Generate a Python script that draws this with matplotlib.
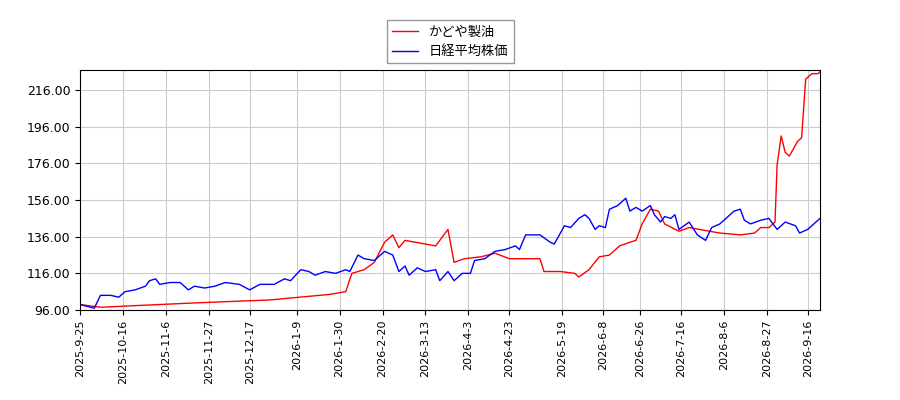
import matplotlib
matplotlib.use("Agg")
import matplotlib.pyplot as plt
import numpy as np
import datetime as dt

plt.rcParams['font.family'] = ['Noto Sans CJK JP', 'DejaVu Sans']

start = dt.date(2025, 9, 25)
red_days = [0,10,39,59,93,122,130,133,139,144,149,153,156,159,169,174,176,180,183,188,196,203,210,218,225,227,235,242,244,249,254,259,264,269,272,275,279,283,286,293,298,303,313,323,330,333,337,340,341,343,345,347,351,353,355,358,361,362]
red_vals = [99,97.5,99,100,101.5,104.5,106,116,118,122,133,137,130,134,132,131,134,140,122,124,125,127,124,124,124,117,117,116,114,118,125,126,131,133,134,143,151,150,143,139,141,140,138,137,138,141,141,144,175,191,182,180,188,190,222,225,225,226]
blue_days = [0,7,10,15,19,22,27,32,34,37,39,44,49,53,56,61,66,71,78,83,88,95,100,103,108,112,115,120,125,130,132,136,139,144,149,153,156,159,161,165,169,174,176,180,183,187,191,193,198,203,208,213,215,218,222,225,230,232,237,240,244,247,249,252,254,257,259,263,267,269,272,275,279,281,284,286,289,291,293,298,302,306,309,313,315,320,323,325,328,333,337,341,345,350,352,356,359,362]
blue_vals = [99,97,104,104,103,106,107,109,112,113,110,111,111,107,109,108,109,111,110,107,110,110,113,112,118,117,115,117,116,118,117,126,124,123,128,126,117,120,115,119,117,118,112,117,112,116,116,123,124,128,129,131,129,137,137,137,133,132,142,141,146,148,146,140,142,141,151,153,157,150,152,150,153,148,144,147,146,148,140,144,137,134,141,143,145,150,151,145,143,145,146,140,144,142,138,140,143,146]
tick_labels = ["2025-9-25","2025-10-16","2025-11-6","2025-11-27","2025-12-17","2026-1-9","2026-1-30","2026-2-20","2026-3-13","2026-4-3","2026-4-23","2026-5-19","2026-6-8","2026-6-26","2026-7-16","2026-8-6","2026-8-27","2026-9-16"]

def d(s):
    y, m, dd = map(int, s.split("-"))
    return dt.date(y, m, dd)

rx = [start + dt.timedelta(days=k) for k in red_days]
bx = [start + dt.timedelta(days=k) for k in blue_days]

fig = plt.figure(figsize=(9, 4), dpi=100)
ax = fig.add_axes([80/900, 90/400, 740/900, 240/400])
ax.plot(rx, red_vals, color='red', lw=1, label='かどや製油')
ax.plot(bx, blue_vals, color='blue', lw=1, label='日経平均株価')
ax.set_xlim(start, start + dt.timedelta(days=362))
ax.set_ylim(96, 227)
ax.set_yticks(np.arange(96, 217, 20))
ax.set_yticklabels([f"{v:.2f}" for v in np.arange(96, 217, 20)], fontsize=9, family='DejaVu Sans')
ticks = [d(s) for s in tick_labels]
ax.set_xticks(ticks)
ax.set_xticklabels(tick_labels, rotation=90, fontsize=8, family='DejaVu Sans')
ax.grid(True, color='#cccccc', lw=0.8)
ax.legend(loc='lower center', bbox_to_anchor=(0.5, 1.0), fontsize=9.5, framealpha=1, edgecolor='#999999', fancybox=False)
fig.savefig("out.png", dpi=100)
